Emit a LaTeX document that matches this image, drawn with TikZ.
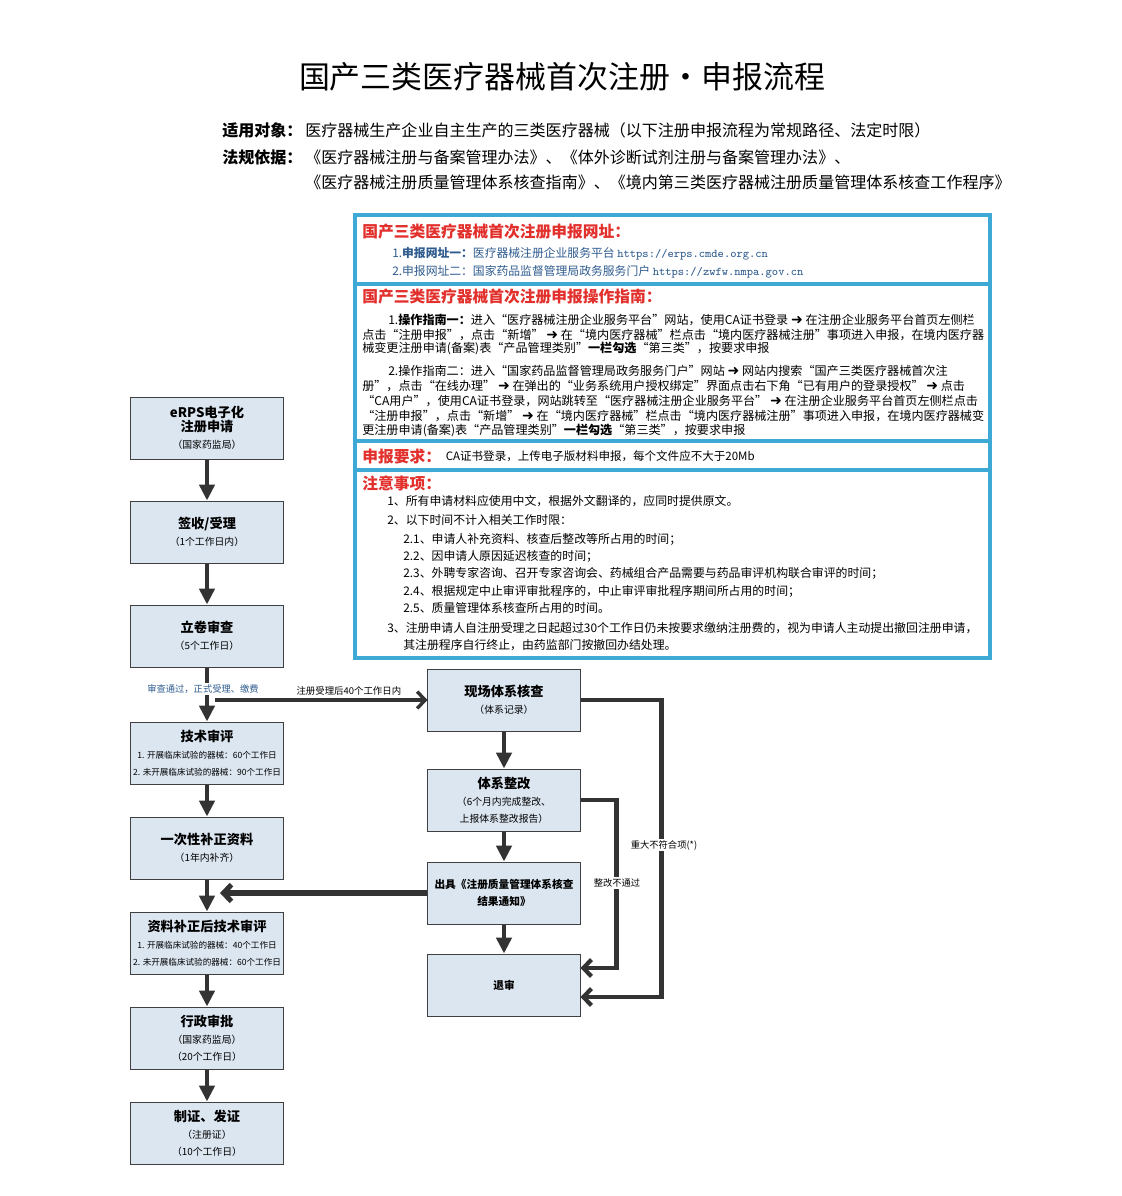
\documentclass[tikz,border=0pt]{standalone}
\usepackage{fontspec}
\setmainfont{Noto Sans CJK SC}
\newfontfamily\symfont{DejaVu Sans}
\usetikzlibrary{arrows.meta}
\usetikzlibrary{positioning}

\definecolor{boxfill}{HTML}{DCE6F1}
\definecolor{boxline}{HTML}{404040}
\definecolor{flowline}{HTML}{333333}
\definecolor{framecyan}{HTML}{3FA9D6}
\definecolor{headred}{HTML}{E2302C}
\definecolor{linkblue}{HTML}{2F5C8F}

\newcommand{\rarr}{{\symfont\bfseries\fontsize{10}{10}\selectfont ➜}}
\newcommand{\boxhead}{\fontsize{9.4}{12}\selectfont\bfseries}
\newcommand{\boxsub}{\fontsize{7}{10.5}\selectfont}
\newcommand{\boxtiny}{\fontsize{6.1}{9}\selectfont}

\tikzset{
  stepbox/.style={draw=boxline, line width=0.7pt, fill=boxfill, minimum width=38mm, minimum height=15.5mm, align=center, inner sep=0pt},
  flow/.style={draw=flowline, line width=3pt, -{Triangle[length=4mm, width=3.8mm]}},
  barb/.style={draw=flowline, line width=3pt, -{Straight Barb[length=2mm, width=4.2mm]}},
  subline/.style={anchor=west, inner sep=0pt, font=\fontsize{11.4}{13}\selectfont},
  redhead/.style={anchor=west, inner sep=0pt, text=headred, font=\fontsize{11.2}{13}\selectfont\bfseries},
  linkline/.style={anchor=west, inner sep=0pt, text=linkblue, font=\fontsize{8.4}{10}\selectfont},
  infoline/.style={anchor=west, inner sep=0pt, font=\fontsize{8.6}{10}\selectfont},
  noteline/.style={anchor=west, inner sep=0pt, font=\fontsize{8.45}{10}\selectfont},
  flowlabel/.style={inner sep=1pt, fill=white, font=\fontsize{6.6}{8}\selectfont}
}

\begin{document}
\begin{tikzpicture}[x=0.025cm, y=-0.025cm]
        %% page
        \path[use as bounding box, fill=white] (0,0) rectangle (1122,1196);

        %% columns
        \def\colL{207};
        \def\colR{504};

        %% title
        \node[font=\fontsize{22}{26}\selectfont] (title) at (562,77) {国产三类医疗器械首次注册•申报流程};

        %% scope and rules
        \node[subline, font=\fontsize{11.4}{13}\selectfont\bfseries] (scopekey) at (222,130) {适用对象：};
        \node[subline] (scopetext) at (305,130) {医疗器械生产企业自主生产的三类医疗器械（以下注册申报流程为常规路径、法定时限）};
        \node[subline, font=\fontsize{11.4}{13}\selectfont\bfseries] (lawkey) at (222,157) {法规依据：};
        \node[subline] (lawtexti) at (305,157) {《医疗器械注册与备案管理办法》、《体外诊断试剂注册与备案管理办法》、};
        \node[subline] (lawtextii) at (305,182) {《医疗器械注册质量管理体系核查指南》、《境内第三类医疗器械注册质量管理体系核查工作程序》};

        %% info frame
        \draw[framecyan, line width=2.2pt] (355,215) rectangle (990,658);
        \draw[framecyan, line width=2.2pt] (355,284) -- (990,284);
        \draw[framecyan, line width=2.2pt] (355,441) -- (990,441);
        \draw[framecyan, line width=2.2pt] (355,470) -- (990,470);

        %% web addresses
        \node[redhead] (urlhead) at (362,232) {国产三类医疗器械首次注册申报网址：};
        \node[linkline] (urli) at (392,254) {1.\textbf{申报网址一：}医疗器械注册企业服务平台\ \texttt{https://erps.cmde.org.cn}};
        \node[linkline] (urlii) at (392,272) {2.申报网址二：国家药品监督管理局政务服务门户\ \texttt{https://zwfw.nmpa.gov.cn}};

        %% operation guide
        \node[redhead] (guidehead) at (362,297) {国产三类医疗器械首次注册申报操作指南：};
        \node[infoline] (guidei) at (388,320) {1.\textbf{操作指南一：}进入“医疗器械注册企业服务平台”网站，使用CA证书登录 \rarr\ 在注册企业服务平台首页左侧栏};
        \node[infoline] (guideii) at (362,335) {点击“注册申报”，点击“新增” \rarr\ 在“境内医疗器械”栏点击“境内医疗器械注册”事项进入申报，在境内医疗器};
        \node[infoline] (guideiii) at (362,349) {械变更注册申请(备案)表“产品管理类别”\textbf{一栏勾选}“第三类”，按要求申报};
        \node[infoline] (guideiv) at (388,371) {2.操作指南二：进入“国家药品监督管理局政务服务门户”网站 \rarr\ 网站内搜索“国产三类医疗器械首次注};
        \node[infoline] (guidev) at (362,386) {册”，点击“在线办理” \rarr\ 在弹出的“业务系统用户授权绑定”界面点击右下角“已有用户的登录授权” \rarr\ 点击};
        \node[infoline] (guidevi) at (362,401) {“CA用户”，使用CA证书登录，网站跳转至“医疗器械注册企业服务平台” \rarr\ 在注册企业服务平台首页左侧栏点击};
        \node[infoline] (guidevii) at (362,416) {“注册申报”，点击“新增” \rarr\ 在“境内医疗器械”栏点击“境内医疗器械注册”事项进入申报，在境内医疗器械变};
        \node[infoline] (guideviii) at (362,431) {更注册申请(备案)表“产品管理类别”\textbf{一栏勾选}“第三类”，按要求申报};

        %% requirement
        \node[redhead] (reqhead) at (362,456) {申报要求：};
        \node[infoline, right=3pt of reqhead, font=\fontsize{8.2}{10}\selectfont] (reqtext) {CA证书登录，上传电子版材料申报，每个文件应不大于20Mb};

        %% notes
        \node[redhead] (notehead) at (362,483) {注意事项：};
        \node[noteline] (notei) at (387,501) {1、所有申请材料应使用中文，根据外文翻译的，应同时提供原文。};
        \node[noteline] (noteii) at (387,520) {2、以下时间不计入相关工作时限：};
        \node[noteline] (noteiia) at (403,539) {2.1、申请人补充资料、核查后整改等所占用的时间；};
        \node[noteline] (noteiib) at (403,556) {2.2、因申请人原因延迟核查的时间；};
        \node[noteline] (noteiic) at (403,573) {2.3、外聘专家咨询、召开专家咨询会、药械组合产品需要与药品审评机构联合审评的时间；};
        \node[noteline] (noteiid) at (403,591) {2.4、根据规定中止审评审批程序的，中止审评审批程序期间所占用的时间；};
        \node[noteline] (noteiie) at (403,608) {2.5、质量管理体系核查所占用的时间。};
        \node[noteline] (noteiii) at (387,628) {3、注册申请人自注册受理之日起超过30个工作日仍未按要求缴纳注册费的，视为申请人主动提出撤回注册申请，};
        \node[noteline] (noteiiia) at (403,645) {其注册程序自行终止，由药监部门按撤回办结处理。};

        %% main column
        \node[stepbox] (erps) at (\colL,428) {\boxhead eRPS电子化\\[-2pt]\boxhead 注册申请\\\boxsub （国家药监局）};
        \node[stepbox] (sign) at (\colL,532) {\boxhead 签收/受理\\\boxsub （1个工作日内）};
        \node[stepbox] (file) at (\colL,636) {\boxhead 立卷审查\\\boxsub （5个工作日）};
        \node[stepbox] (tech) at (\colL,753) {\boxhead 技术审评\\\boxtiny 1. 开展临床试验的器械：60个工作日\\\boxtiny 2. 未开展临床试验的器械：90个工作日};
        \node[stepbox] (supply) at (\colL,848) {\boxhead 一次性补正资料\\\boxsub （1年内补齐）};
        \node[stepbox] (retech) at (\colL,943) {\boxhead 资料补正后技术审评\\\boxtiny 1. 开展临床试验的器械：40个工作日\\\boxtiny 2. 未开展临床试验的器械：60个工作日};
        \node[stepbox] (admin) at (\colL,1038) {\boxhead 行政审批\\\boxsub （国家药监局）\\\boxsub （20个工作日）};
        \node[stepbox] (cert) at (\colL,1133) {\boxhead 制证、发证\\\boxsub （注册证）\\\boxsub （10个工作日）};

        %% inspection column
        \node[stepbox] (insp) at (\colR,700) {\boxhead 现场体系核查\\\boxsub （体系记录）};
        \node[stepbox] (rect) at (\colR,800) {\boxhead 体系整改\\\boxsub （6个月内完成整改、\\\boxsub 上报体系整改报告）};
        \node[stepbox] (result) at (\colR,893) {\fontsize{7.6}{11}\selectfont\bfseries 出具《注册质量管理体系核查\\\fontsize{7.6}{11}\selectfont\bfseries 结果通知》};
        \node[stepbox] (retreat) at (\colR,985) {\fontsize{7.6}{11}\selectfont\bfseries 退审};

        %% main arrows
        \draw[flow] (erps) -- (sign);
        \draw[flow] (sign) -- (file);
        \draw[flow] (file) -- (tech);
        \draw[flow] (tech) -- (supply);
        \draw[flow] (supply) -- (retech);
        \draw[flow] (retech) -- (admin);
        \draw[flow] (admin) -- (cert);
        \node[flowlabel, text=linkblue] (passlbl) at (203,689) {审查通过，正式受理、缴费};

        %% inspection arrows
        \coordinate (fork) at (215,700);
        \coordinate (back) at (220,893);
        \draw[barb, line width=2.4pt] (fork) -- (insp.west) node[pos=0.63, above=1pt, inner sep=1pt, font=\fontsize{6.7}{8}\selectfont] (acceptlbl) {注册受理后40个工作日内};
        \draw[flow] (insp) -- (rect);
        \draw[flow] (rect) -- (result);
        \draw[flow] (result) -- (retreat);
        \draw[barb, line width=3.6pt] (result.west) -- (back);

        %% failing branches
        \draw[barb] (insp.east) -- ++(81,0) |- ([yshift=-3mm]retreat.east);
        \draw[barb] (rect.east) -- ++(36,0) |- ([yshift=4.25mm]retreat.east);
        \node[flowlabel] (majorlbl) at (664,845) {重大不符合项(*)};
        \node[flowlabel] (faillbl) at (617,883) {整改不通过};
\end{tikzpicture}
\end{document}
